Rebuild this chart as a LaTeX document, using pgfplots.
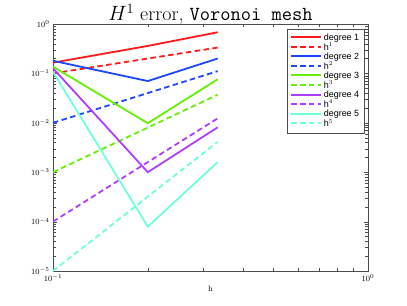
\documentclass[border=0pt]{standalone}
\usepackage{pgfplots}
\pgfplotsset{compat=1.18}
\usepackage{fontspec}
\setsansfont{Liberation Sans}
\definecolor{cA}{RGB}{255,25,25}
\definecolor{cB}{RGB}{30,70,255}
\definecolor{cC}{RGB}{100,240,0}
\definecolor{cD}{RGB}{175,60,255}
\definecolor{cE}{RGB}{110,255,220}
\tikzset{sol/.style={line width=1.8pt}, das/.style={line width=1.8pt, dash pattern=on 5.5pt off 3.5pt}}
\begin{document}
\begin{tikzpicture}
\path[use as bounding box] (-53bp,-35bp) rectangle (354bp,271bp);
\begin{axis}[
  at={(0,0)}, anchor=south west,
  scale only axis, width=315bp, height=247bp,
  xmode=log, ymode=log,
  xmin=0.1, xmax=1, ymin=1e-5, ymax=1,
  axis line style={black!70, line width=0.6pt},
  tick style={black!70},
  tick align=inside,
  xtick={0.1,1}, ytick={1e-5,1e-4,1e-3,1e-2,1e-1,1},
  tick label style={font=\sffamily\footnotesize},
  xlabel={h}, xlabel style={font=\footnotesize, yshift=2pt},
  title={\fontsize{20}{22}\selectfont $H^1$ error, \texttt{Voronoi mesh}},
  title style={yshift=-10pt},
  legend style={at={(0.987,0.98)}, anchor=north east, font=\sffamily\small,
    draw=black!70, row sep=-3pt, inner sep=2.5pt,
    legend cell align=left},
  legend image code/.code={\draw[#1, line width=2pt] (0cm,0.5pt) -- (1.05cm,0.5pt);},
]
\addplot[draw=cA, sol] coordinates {(0.1,0.165) (0.2,0.36) (0.3333,0.68)};
\addlegendentry{degree 1}
\addplot[draw=cA, das] coordinates {(0.1,0.1) (0.2,0.2) (0.3333,0.3333)};
\addlegendentry{h$^1$}
\addplot[draw=cB, sol] coordinates {(0.1,0.18) (0.2,0.07) (0.3333,0.20)};
\addlegendentry{degree 2}
\addplot[draw=cB, das] coordinates {(0.1,0.01) (0.2,0.04) (0.3333,0.1111)};
\addlegendentry{h$^2$}
\addplot[draw=cC, sol] coordinates {(0.1,0.137) (0.2,0.0098) (0.3333,0.076)};
\addlegendentry{degree 3}
\addplot[draw=cC, das] coordinates {(0.1,0.001) (0.2,0.008) (0.3333,0.037)};
\addlegendentry{h$^3$}
\addplot[draw=cD, sol] coordinates {(0.1,0.127) (0.2,0.001) (0.3333,0.0081)};
\addlegendentry{degree 4}
\addplot[draw=cD, das] coordinates {(0.1,0.0001) (0.2,0.0016) (0.3333,0.0123)};
\addlegendentry{h$^4$}
\addplot[draw=cE, sol] coordinates {(0.1,0.108) (0.2,7.9e-5) (0.3333,0.0016)};
\addlegendentry{degree 5}
\addplot[draw=cE, das] coordinates {(0.1,1e-5) (0.2,3.2e-4) (0.3333,0.0041)};
\addlegendentry{h$^5$}
\end{axis}
\end{tikzpicture}
\end{document}
